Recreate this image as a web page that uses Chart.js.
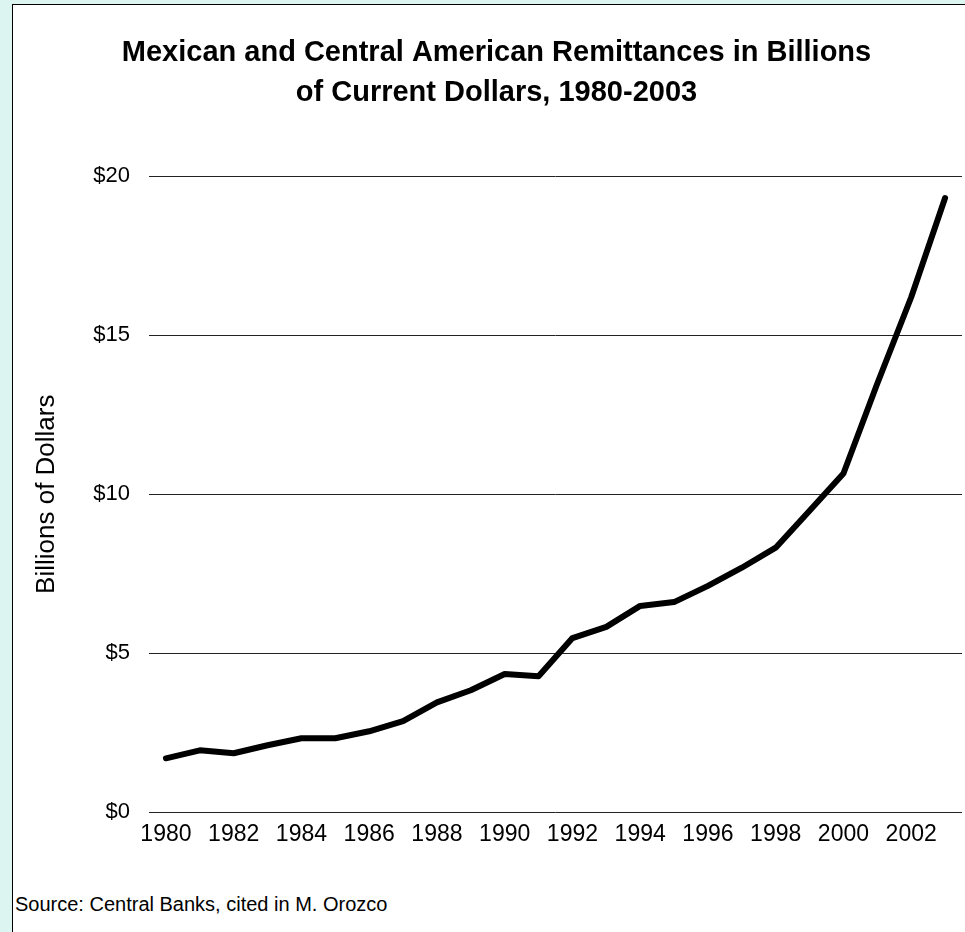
<!DOCTYPE html>
<html>
<head>
<meta charset="utf-8">
<script src="https://cdn.jsdelivr.net/npm/chart.js@4/dist/chart.umd.min.js"></script>
<style>
  html, body { margin:0; padding:0; }
  body { width:965px; height:932px; background:#ddf5f0; position:relative; overflow:hidden; font-family:"Liberation Sans", Arial, sans-serif; }
  #box { position:absolute; left:12px; top:4px; width:952px; height:927px; background:#fff; border-left:1px solid #000; border-top:1px solid #000; }
  #chartWrap { position:absolute; left:0; top:0; width:952px; height:843px; }
  #source { position:absolute; left:2px; top:888px; font-size:20px; color:#000; }
</style>
</head>
<body>
<div id="box">
  <div id="chartWrap"><canvas id="remitChart"></canvas></div>
  <div id="source">Source: Central Banks, cited in M. Orozco</div>
</div>
<script>
const years = ["1980","1981","1982","1983","1984","1985","1986","1987","1988","1989","1990","1991",
               "1992","1993","1994","1995","1996","1997","1998","1999","2000","2001","2002","2003"];
const remittances = [1.70,1.95,1.86,2.11,2.33,2.33,2.55,2.87,3.46,3.84,4.35,4.28,
                     5.48,5.83,6.49,6.61,7.12,7.69,8.32,9.48,10.65,13.48,16.19,19.31];
const yTicks = [0,5,10,15,20];
const titleLines = ["Mexican and Central American Remittances in Billions","of Current Dollars, 1980-2003"];

document.addEventListener("DOMContentLoaded", () => {
  const fontFam = "'Liberation Sans', Arial, sans-serif";
  const ctx = document.getElementById("remitChart").getContext("2d");
  new Chart(ctx, {
    type:"line",
    data:{
      labels:years,
      datasets:[{
        label:"Remittances",
        data:remittances,
        borderColor:"#000",
        borderWidth:6,
        borderCapStyle:"round",
        borderJoinStyle:"round",
        pointRadius:0,
        tension:0,
        fill:false
      }]
    },
    options:{
      responsive:true,
      maintainAspectRatio:false,
      animation:false,
      layout:{ padding:{ left:18, right:3, top:0, bottom:0 } },
      plugins:{
        legend:{ display:false },
        tooltip:{ enabled:false },
        title:{
          display:true,
          text:titleLines,
          color:"#000",
          font:{ family:fontFam, size:29, weight:"bold", lineHeight:1.38 },
          padding:{ top:28, bottom:63 }
        }
      },
      scales:{
        x:{
          offset:true,
          grid:{ display:false },
          border:{ display:false },
          ticks:{
            color:"#000",
            autoSkip:false,
            maxRotation:0,
            padding:0,
            font:{ family:fontFam, size:23 },
            callback:function(v, i){ return i % 2 === 0 ? years[i] : ""; }
          }
        },
        y:{
          min:0, max:20,
          afterFit:(axis) => { axis.width = 118; },
          afterBuildTicks:(axis) => { axis.ticks = yTicks.map(v => ({ value:v })); },
          grid:{ color:"#222", lineWidth:1, drawTicks:false },
          border:{ display:false },
          title:{ display:true, text:"Billions of Dollars", color:"#000", font:{ family:fontFam, size:26 }, padding:0 },
          ticks:{
            color:"#000",
            padding:19,
            font:{ family:fontFam, size:22 },
            callback:(v) => "$" + v
          }
        }
      }
    }
  });
});
</script>
</body>
</html>
